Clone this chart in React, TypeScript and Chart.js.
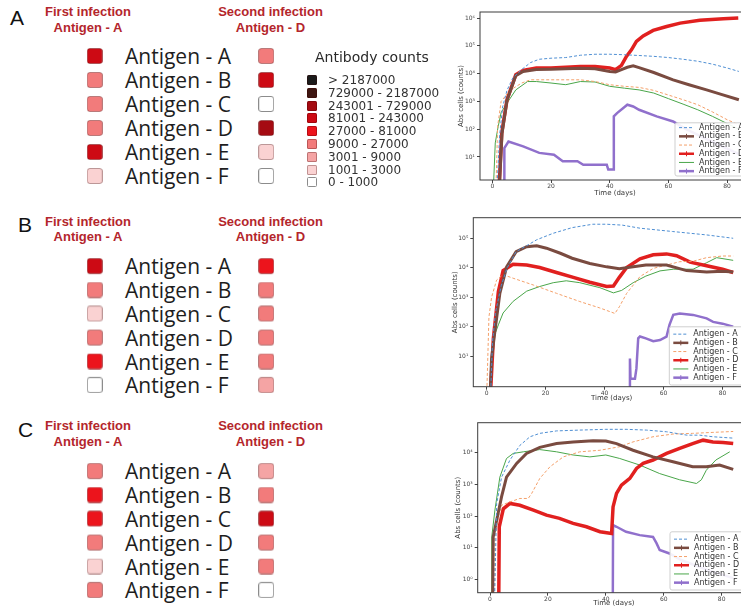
import React, { useEffect, useRef } from 'react';
import { Chart, registerables } from 'chart.js';

Chart.register(...registerables);

// ---------------- data ----------------
const antigens = ['Antigen - A', 'Antigen - B', 'Antigen - C', 'Antigen - D', 'Antigen - E', 'Antigen - F'];
const infectionTitles = ['First infection', 'Second infection'];
const infectionAntigens = ['Antigen - A', 'Antigen - D'];
const panelLetters = ['A', 'B', 'C'];
const legendTitle = 'Antibody counts';
const countBins = ['> 2187000', '729000 - 2187000', '243001 - 729000', '81001 - 243000', '27000 - 81000', '9000 - 27000', '3001 - 9000', '1001 - 3000', '0 - 1000'];
const binColors = ['#1b1b1b', '#3e1611', '#a50b12', '#cd0a14', '#ec141c', '#f27b7b', '#f5a4a4', '#fad2d2', '#ffffff'];

// bin index (into countBins) per antigen, first / second infection
const firstA = [3, 5, 5, 5, 3, 7];
const secondA = [5, 3, 8, 2, 7, 8];
const firstB = [3, 5, 7, 5, 4, 8];
const secondB = [4, 5, 5, 5, 5, 6];
const firstC = [5, 4, 4, 5, 7, 5];
const secondC = [6, 5, 3, 5, 5, 8];

const xTicks = [0, 20, 40, 60, 80];
const yTicksA = [1e1, 1e2, 1e3, 1e4, 1e5, 1e6];
const yTicksB = [1e1, 1e2, 1e3, 1e4, 1e5];
const yTicksC = [1e0, 1e1, 1e2, 1e3, 1e4];
const xTitle = 'Time (days)';
const yTitle = 'Abs cells (counts)';

// Panel A simulation
const dayA_A = [1.5, 2.5, 3.5, 5, 7, 10, 13, 16, 20, 25, 30, 35, 40, 45, 50, 55, 60, 65, 70, 75, 80, 84];
const cntA_A = [0.5, 63, 630, 2500, 7100, 14000, 25000, 33000, 36000, 38000, 46000, 50000, 50000, 48000, 45000, 42000, 38000, 33000, 28000, 22000, 16000, 12000];
const dayA_B = [2.3, 3.3, 5, 8, 10.5, 15, 20, 25, 30, 35, 40, 42, 44, 46, 48, 50, 55, 61.6, 67, 73, 78, 84];
const cntA_B = [0.5, 70, 1100, 8500, 12000, 14000, 14500, 15000, 15500, 15000, 12000, 11500, 14000, 17000, 19000, 16500, 11000, 6000, 4000, 2600, 1800, 1150];
const dayA_C = [1.2, 1.8, 3, 6, 10, 13, 20, 30, 35, 40, 45, 50, 55, 60, 65, 70, 75, 80, 84];
const cntA_C = [0.5, 126, 1000, 2500, 4600, 6000, 6000, 6000, 5200, 4000, 3500, 3200, 2500, 1700, 1150, 760, 420, 220, 145];
const dayA_D = [2.2, 3.2, 5, 8, 10.5, 15, 20, 25, 30, 35, 40, 42, 44, 45.7, 47.4, 49.1, 51.4, 54.8, 59.4, 64, 70.7, 78.7, 83.8];
const cntA_D = [0.5, 72, 1150, 9100, 13000, 16000, 16000, 17000, 18000, 18000, 16000, 14000, 20000, 42000, 72000, 145000, 230000, 360000, 500000, 660000, 830000, 950000, 1000000];
const dayA_E = [0.3, 1, 2, 3, 5, 8, 12, 15, 20, 25, 30, 35, 40, 45, 50, 55, 60, 65, 70, 75, 80, 84];
const cntA_E = [0.5, 32, 126, 400, 870, 2600, 5200, 5200, 4600, 4000, 5200, 5000, 3500, 3000, 2600, 2000, 1260, 800, 500, 290, 160, 100];
const dayA_F = [4, 4.1, 5.5, 10.5, 16, 21, 24, 29, 31, 39, 39.5, 41.2, 41.4, 42.5, 46, 48, 50, 56, 61.6, 66, 72, 78, 84];
const cntA_F = [0.5, 21, 36, 24, 14, 12, 7, 7, 5.2, 5.2, 3.5, 3.5, 290, 380, 760, 660, 500, 290, 190, 100, 50, 25, 12.6];

// Panel B simulation
const dayB_A = [1.3, 2, 3, 5, 7, 10, 13.6, 17, 22.6, 29, 36, 40.7, 46, 52, 63, 74.6, 83.6];
const cntB_A = [0.3, 30, 300, 2500, 10000, 35000, 56000, 89000, 148000, 230000, 300000, 300000, 280000, 220000, 170000, 130000, 100000];
const dayB_B = [1.1, 1.7, 2.8, 4.5, 6.8, 10, 13.6, 17, 20.3, 25, 29, 35, 40.7, 45, 49.7, 54, 61, 67.8, 74.6, 80, 83.6];
const cntB_B = [0.3, 8.3, 66, 1350, 10700, 35000, 52000, 56000, 46000, 31000, 21000, 14000, 10700, 9300, 10700, 12300, 12300, 8000, 7100, 7600, 7100];
const dayB_C = [0, 0.8, 1.7, 3.4, 5.6, 9, 15.8, 23.7, 31.6, 38.4, 43.5, 45, 47.5, 52, 56.5, 61, 65.5, 70, 74.6, 80, 83.6];
const cntB_C = [0.3, 210, 1000, 3800, 5800, 4400, 2600, 1350, 710, 430, 280, 470, 1350, 5000, 9500, 12300, 16000, 16600, 22000, 25000, 25000];
const dayB_D = [1.2, 2.3, 4, 5.6, 9, 13.6, 18, 23.7, 29.4, 35, 40.7, 43, 45, 47.5, 52, 56.5, 61, 64.4, 69, 74.6, 80, 83.6];
const cntB_D = [0.3, 40, 1550, 8000, 13000, 12300, 10200, 6900, 4700, 3200, 2300, 2400, 4700, 10200, 20000, 27500, 29500, 25700, 15500, 11700, 8900, 6900];
const dayB_E = [1.3, 2.3, 4, 5.6, 9, 13.6, 18, 22.6, 27, 31.6, 38.4, 43, 45.8, 49.7, 54, 58.8, 63.3, 70, 74.6, 78, 83.6];
const cntB_E = [0.3, 40, 115, 290, 720, 1600, 2300, 3100, 3600, 3100, 2100, 1400, 1700, 3100, 5200, 7800, 8900, 8900, 14800, 22000, 17800];
const dayB_F = [48.5, 48.6, 48.8, 50.3, 50.8, 51.4, 52, 54, 56.5, 58.8, 61, 62, 63.3, 65.5, 70, 74.6, 76.8, 80, 83.6];
const cntB_F = [0.3, 8.3, 1.7, 1.7, 3.8, 40, 46, 40, 32, 35, 46, 115, 250, 280, 250, 190, 145, 126, 100];

// Panel C simulation
const dayC_A = [1.5, 2.3, 4, 6.9, 10.3, 13.8, 17.2, 23, 31, 40, 47, 54, 61, 68, 72.4, 77, 84];
const cntC_A = [0.1, 250, 1700, 5900, 17000, 32000, 41000, 49000, 52000, 55000, 55000, 52000, 46000, 36000, 36000, 32000, 29000];
const dayC_B = [0.9, 1.1, 2.3, 4, 5.7, 9.2, 12.6, 17.2, 23, 28.7, 35.6, 40, 43.7, 49.4, 56.3, 63.2, 70, 74.7, 79.3, 84];
const cntC_B = [0.1, 22, 74, 410, 1700, 4600, 9500, 14800, 19500, 22000, 24000, 23500, 19500, 12000, 7400, 5200, 3600, 3600, 4100, 3000];
const dayC_C = [1.5, 1.7, 2.9, 4, 6.9, 10.3, 13.2, 14.4, 17.2, 20.7, 25.3, 31, 38, 44.8, 49.4, 56.3, 63.2, 70, 77, 84];
const cntC_C = [0.1, 22, 95, 220, 280, 360, 360, 520, 1550, 3600, 7400, 10700, 12000, 15500, 22000, 32000, 39000, 41000, 44000, 47000];
const dayC_D = [3, 3.2, 4.6, 6.9, 10.3, 15, 19.5, 24, 28.7, 33.3, 38, 42, 42.5, 43.7, 45.4, 48.3, 50.6, 52.9, 56.3, 61, 65.5, 70, 73.6, 77, 80.5, 84];
const cntC_D = [0.1, 46, 170, 250, 220, 155, 107, 85, 59, 46, 32, 28, 195, 520, 950, 1550, 3200, 4600, 5900, 9500, 13800, 19500, 25000, 22000, 21000, 19500];
const dayC_E = [0.5, 0.6, 1.7, 3.4, 5.7, 8, 11.5, 17.2, 23, 28.7, 34.5, 40, 44.8, 51.7, 58.6, 65.5, 71.3, 73, 74.7, 78, 82.8];
const cntC_E = [0.1, 22, 155, 1700, 6600, 9500, 10700, 12600, 10700, 8500, 7400, 8500, 6600, 4100, 2200, 1400, 1070, 1400, 2800, 5900, 10700];
const dayC_F = [42.4, 42.5, 43.7, 47, 51.7, 56.3, 57.5, 58.6, 62, 66, 75, 84];
const cntC_F = [0.1, 52, 46, 32, 25, 22, 14, 8.5, 6.6, 4.1, 2, 1.1];

// ---------------- styles ----------------
const seriesStyles = [
  { color: '#4f8fd3', width: 1, dash: [3, 2], marker: false },
  { color: '#7a4b40', width: 3, dash: [] as number[], marker: true },
  { color: '#f4a06a', width: 1, dash: [3, 2], marker: false },
  { color: '#e1201f', width: 3.5, dash: [] as number[], marker: true },
  { color: '#4aa64a', width: 1, dash: [] as number[], marker: false },
  { color: '#9070cc', width: 2.5, dash: [] as number[], marker: true },
];
const headRed = '#b4262c';
const SUP: Record<string, string> = { '0': '⁰', '1': '¹', '2': '²', '3': '³', '4': '⁴', '5': '⁵', '6': '⁶', '7': '⁷', '8': '⁸', '9': '⁹', '-': '⁻' };
const pow10Label = (v: number) => '10' + String(Math.round(Math.log10(v))).split('').map((c) => SUP[c] || c).join('');

const spriteCache = new Map<string, HTMLCanvasElement>();
function squareSprite(color: string) {
  const hit = spriteCache.get(color);
  if (hit) return hit;
  const c = document.createElement('canvas');
  c.width = 16;
  c.height = 16;
  const g = c.getContext('2d')!;
  g.beginPath();
  (g as any).roundRect(0.5, 0.5, 15, 15, 2.5);
  g.fillStyle = color;
  g.fill();
  g.lineWidth = 1;
  g.strokeStyle = color === '#ffffff' ? '#8c8c8c' : 'rgba(70,0,0,0.35)';
  g.stroke();
  spriteCache.set(color, c);
  return c;
}

const framePlugin = {
  id: 'frame',
  afterDatasetsDraw(chart: any) {
    const { ctx, chartArea: a } = chart;
    ctx.save();
    ctx.strokeStyle = '#3c3c3c';
    ctx.lineWidth = 1;
    ctx.strokeRect(a.left, a.top, a.right - a.left, a.bottom - a.top);
    ctx.restore();
  },
};

const legendBoxPlugin = {
  id: 'legendBox',
  afterDraw(chart: any, _args: any, opts: any) {
    const { ctx, chartArea: a } = chart;
    const ds = chart.data.datasets;
    const h = ds.length * opts.rowH + 2 * opts.pad;
    const x = a.left + opts.left;
    const y = a.bottom - opts.gap - h;
    ctx.save();
    ctx.beginPath();
    ctx.roundRect(x, y, 130, h, 2);
    ctx.fillStyle = 'rgba(255,255,255,0.9)';
    ctx.fill();
    ctx.strokeStyle = '#cfcfcf';
    ctx.lineWidth = 1;
    ctx.stroke();
    ds.forEach((d: any, i: number) => {
      const cy = y + opts.pad + opts.rowH * (i + 0.5);
      const st = seriesStyles[i];
      ctx.beginPath();
      ctx.setLineDash(st.dash);
      ctx.strokeStyle = st.color;
      ctx.lineWidth = Math.min(st.width, 2.5);
      ctx.moveTo(x + 4, cy);
      ctx.lineTo(x + 19, cy);
      ctx.stroke();
      ctx.setLineDash([]);
      if (st.marker) {
        ctx.lineWidth = 1;
        ctx.beginPath();
        ctx.moveTo(x + 9, cy);
        ctx.lineTo(x + 14, cy);
        ctx.moveTo(x + 11.5, cy - 2.5);
        ctx.lineTo(x + 11.5, cy + 2.5);
        ctx.stroke();
      }
      ctx.fillStyle = '#333';
      ctx.font = '8px "DejaVu Sans"';
      ctx.textBaseline = 'middle';
      ctx.fillText(d.label, x + 24, cy);
    });
    ctx.restore();
  },
};

type LineProps = {
  top: number;
  days: number[][];
  counts: number[][];
  yTicks: number[];
  yMin: number;
  yMax: number;
  xMin: number;
  xMax: number;
  padTop: number;
  padBottom: number;
  xAxisH: number;
  yAxisW: number;
  yTitlePad: number;
  legendLeft: number;
  legendGap: number;
  legendPad: number;
};

const tickFont = { family: '"DejaVu Sans"', size: 6 };
const titleFont = { family: '"DejaVu Sans"', size: 7 };

function LineChartPanel(p: LineProps) {
  const ref = useRef<HTMLCanvasElement>(null);
  useEffect(() => {
    const chart = new Chart(ref.current!, {
      type: 'line',
      data: {
        datasets: p.days.map((ds, i) => ({
          label: antigens[i],
          data: ds.map((d, k) => ({ x: d, y: p.counts[i][k] })),
          borderColor: seriesStyles[i].color,
          backgroundColor: seriesStyles[i].color,
          borderWidth: seriesStyles[i].width,
          borderDash: seriesStyles[i].dash,
          pointRadius: 0,
          fill: false,
          tension: 0,
        })),
      },
      options: {
        animation: false,
        responsive: false,
        events: [],
        layout: { padding: { left: 0, top: p.padTop, right: 10, bottom: p.padBottom } },
        plugins: {
          legend: { display: false },
          tooltip: { enabled: false },
          legendBox: { left: p.legendLeft, gap: p.legendGap, pad: p.legendPad, rowH: 8.7 },
        } as any,
        scales: {
          x: {
            type: 'linear',
            min: p.xMin,
            max: p.xMax,
            afterBuildTicks: (s: any) => {
              s.ticks = xTicks.map((v) => ({ value: v }));
            },
            afterFit: (s: any) => {
              s.height = p.xAxisH;
            },
            ticks: { font: tickFont, color: '#444', padding: 0, maxRotation: 0, autoSkip: false },
            grid: { drawOnChartArea: false, tickLength: 3, tickColor: '#444' },
            border: { display: false },
            title: { display: true, text: xTitle, font: titleFont, color: '#333', padding: 0 },
          },
          y: {
            type: 'logarithmic',
            min: p.yMin,
            max: p.yMax,
            afterBuildTicks: (s: any) => {
              s.ticks = p.yTicks.map((v) => ({ value: v }));
            },
            afterFit: (s: any) => {
              s.width = p.yAxisW;
            },
            ticks: { font: tickFont, color: '#444', padding: 2, autoSkip: false, callback: (v: any) => pow10Label(Number(v)) },
            grid: { drawOnChartArea: false, tickLength: 3, tickColor: '#444' },
            border: { display: false },
            title: { display: true, text: yTitle, font: titleFont, color: '#333', padding: { top: p.yTitlePad, bottom: 0 } },
          },
        } as any,
      },
      plugins: [framePlugin, legendBoxPlugin],
    } as any);
    return () => chart.destroy();
  }, []);
  return (
    <canvas
      ref={ref}
      width={320}
      height={210}
      style={{ position: 'absolute', left: 440, top: p.top, width: 320, height: 210 }}
    />
  );
}

type HeatProps = {
  letterIdx: number;
  letterX: number;
  letterY: number;
  headY: number;
  headStep: number;
  rowY0: number;
  rowStep: number;
  first: number[];
  second: number[];
};

function HeatPanel(p: HeatProps) {
  const ref = useRef<HTMLCanvasElement>(null);
  const canvasTop = p.rowY0 - p.rowStep * 0.5 - 10;
  const canvasH = p.rowStep * 6 + 20;
  useEffect(() => {
    const cells = antigens.flatMap((_, i) => [
      { x: 0, y: i, bin: p.first[i] },
      { x: 1, y: i, bin: p.second[i] },
    ]);
    const chart = new Chart(ref.current!, {
      type: 'scatter',
      data: {
        datasets: [
          {
            data: cells,
            pointStyle: (ctx: any) => squareSprite(binColors[ctx.raw ? ctx.raw.bin : 8]),
            pointRadius: 8,
          },
        ],
      },
      options: {
        animation: false,
        responsive: false,
        events: [],
        layout: { padding: { left: 7.5, right: 7.5, top: 10, bottom: 10 } },
        plugins: { legend: { display: false }, tooltip: { enabled: false } },
        scales: {
          x: { type: 'linear', min: -0.5, max: 1.5, display: false },
          y: { type: 'linear', min: -0.5, max: 5.5, reverse: true, display: false },
        },
      },
    } as any);
    return () => chart.destroy();
  }, []);

  const cols = [88, 270.5];
  const headStyle = {
    position: 'absolute' as const,
    width: 140,
    textAlign: 'center' as const,
    height: 16,
    lineHeight: '16px',
    fontFamily: '"Liberation Sans", Arial, sans-serif',
    fontWeight: 'bold' as const,
    fontSize: 13,
    color: headRed,
    whiteSpace: 'nowrap' as const,
  };
  return (
    <>
      <div
        style={{
          position: 'absolute',
          left: p.letterX,
          top: p.letterY - 12,
          height: 24,
          lineHeight: '24px',
          fontFamily: '"Liberation Sans", Arial, sans-serif',
          fontSize: 21,
          color: '#111',
        }}
      >
        {panelLetters[p.letterIdx]}
      </div>
      {infectionTitles.map((t, j) => (
        <React.Fragment key={t}>
          <div style={{ ...headStyle, left: cols[j] - 70, top: p.headY - 8 }}>{t}</div>
          <div style={{ ...headStyle, left: cols[j] - 70, top: p.headY + p.headStep - 8 }}>{infectionAntigens[j]}</div>
        </React.Fragment>
      ))}
      {antigens.map((a, i) => (
        <div
          key={a}
          style={{
            position: 'absolute',
            left: 125,
            top: p.rowY0 + i * p.rowStep - 12,
            height: 24,
            lineHeight: '24px',
            fontFamily: '"Open Sans", sans-serif',
            fontSize: 21,
            color: '#1e1e1e',
            whiteSpace: 'nowrap',
          }}
        >
          {a}
        </div>
      ))}
      <canvas
        ref={ref}
        width={361}
        height={canvasH}
        style={{ position: 'absolute', left: 0, top: canvasTop, width: 361, height: canvasH }}
      />
    </>
  );
}

function CountLegend() {
  return (
    <>
      <div
        style={{
          position: 'absolute',
          left: 315,
          top: 47,
          height: 20,
          lineHeight: '20px',
          fontFamily: '"DejaVu Sans", sans-serif',
          fontSize: 14,
          color: '#2a2a2a',
          whiteSpace: 'nowrap',
        }}
      >
        {legendTitle}
      </div>
      {countBins.map((b, i) => (
        <React.Fragment key={b}>
          <div
            style={{
              position: 'absolute',
              left: 307,
              top: 80 + 12.8 * i - 5,
              width: 10,
              height: 10,
              boxSizing: 'border-box',
              background: binColors[i],
              border: binColors[i] === '#ffffff' ? '1px solid #8c8c8c' : '1px solid rgba(60,0,0,0.3)',
              borderRadius: 1.5,
            }}
          />
          <div
            style={{
              position: 'absolute',
              left: 328,
              top: 80 + 12.8 * i - 7,
              height: 14,
              lineHeight: '14px',
              fontFamily: '"DejaVu Sans", sans-serif',
              fontSize: 12,
              color: '#333',
              whiteSpace: 'nowrap',
            }}
          >
            {b}
          </div>
        </React.Fragment>
      ))}
    </>
  );
}

export default function App() {
  return (
    <div
      style={{
        position: 'fixed',
        left: 0,
        top: 0,
        width: 741,
        height: 606,
        overflow: 'hidden',
        background: '#fff',
      }}
    >
      <HeatPanel letterIdx={0} letterX={10} letterY={18} headY={11.7} headStep={16} rowY0={55.5} rowStep={24} first={firstA} second={secondA} />
      <HeatPanel letterIdx={1} letterX={18} letterY={225} headY={221.7} headStep={15.5} rowY0={266.3} rowStep={23.8} first={firstB} second={secondB} />
      <HeatPanel letterIdx={2} letterX={18} letterY={430} headY={426} headStep={16} rowY0={471.3} rowStep={23.8} first={firstC} second={secondC} />
      <CountLegend />
      <LineChartPanel
        top={0}
        days={[dayA_A, dayA_B, dayA_C, dayA_D, dayA_E, dayA_F]}
        counts={[cntA_A, cntA_B, cntA_C, cntA_D, cntA_E, cntA_F]}
        yTicks={yTicksA}
        yMin={1.48}
        yMax={1.66e6}
        xMin={-4.2}
        xMax={87.8}
        padTop={12}
        padBottom={13.1}
        xAxisH={16.9}
        yAxisW={40}
        yTitlePad={16.5}
        legendLeft={195}
        legendGap={4}
        legendPad={0.5}
      />
      <LineChartPanel
        top={205}
        days={[dayB_A, dayB_B, dayB_C, dayB_D, dayB_E, dayB_F]}
        counts={[cntB_A, cntB_B, cntB_C, cntB_D, cntB_E, cntB_F]}
        yTicks={yTicksB}
        yMin={0.91}
        yMax={5.0e5}
        xMin={-4.5}
        xMax={89.3}
        padTop={12.7}
        padBottom={13.1}
        xAxisH={15.2}
        yAxisW={33.3}
        yTitlePad={10.8}
        legendLeft={196}
        legendGap={1.7}
        legendPad={3}
      />
      <LineChartPanel
        top={410}
        days={[dayC_A, dayC_B, dayC_C, dayC_D, dayC_E, dayC_F]}
        counts={[cntC_A, cntC_B, cntC_C, cntC_D, cntC_E, cntC_F]}
        yTicks={yTicksC}
        yMin={0.38}
        yMax={8.9e4}
        xMin={-4.25}
        xMax={89.8}
        padTop={12.7}
        padBottom={13.1}
        xAxisH={14.2}
        yAxisW={37.7}
        yTitlePad={13.8}
        legendLeft={192.3}
        legendGap={2.7}
        legendPad={3}
      />
    </div>
  );
}
